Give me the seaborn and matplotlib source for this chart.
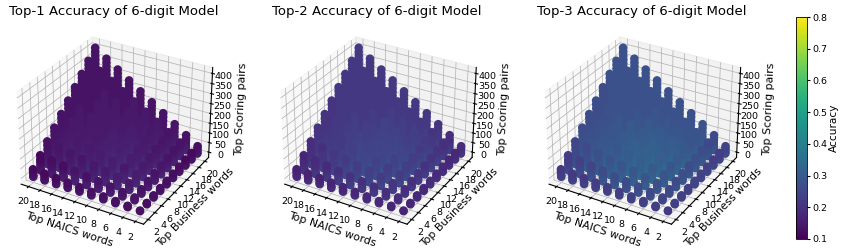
import numpy as np
import matplotlib
matplotlib.use("Agg")
import matplotlib.pyplot as plt
import seaborn as sns

naics_words = [2, 4, 6, 8, 10, 12, 14, 16, 18, 20]
business_words = [2, 4, 6, 8, 10, 12, 14, 16, 18, 20]
pair_levels = [1, 5, 10, 20, 30, 40, 50, 60, 80, 100, 120, 140, 160, 180, 200,
               220, 240, 260, 280, 300, 320, 340, 360, 380, 400]
z_ticks = [0, 50, 100, 150, 200, 250, 300, 350, 400]
cbar_ticks = [0.1, 0.2, 0.3, 0.4, 0.5, 0.6, 0.7, 0.8]

titles = ["Top-1 Accuracy of 6-digit Model",
          "Top-2 Accuracy of 6-digit Model",
          "Top-3 Accuracy of 6-digit Model"]

# accuracy at the bottom of each tower, rows = naics words, cols = business words
top1_base = [
    [.13, .13, .14, .14, .14, .14, .14, .14, .14, .15],
    [.13, .15, .15, .16, .16, .17, .17, .17, .17, .17],
    [.14, .15, .17, .18, .18, .18, .18, .18, .18, .18],
    [.14, .16, .18, .18, .19, .19, .19, .19, .19, .18],
    [.14, .16, .18, .19, .20, .20, .20, .19, .19, .18],
    [.14, .16, .18, .19, .20, .20, .19, .19, .19, .18],
    [.14, .17, .18, .19, .19, .19, .19, .19, .18, .18],
    [.14, .16, .18, .19, .19, .19, .19, .19, .18, .18],
    [.14, .16, .18, .19, .19, .19, .18, .18, .18, .18],
    [.14, .15, .17, .18, .18, .18, .18, .18, .18, .18],
]
top2_base = [
    [.17, .18, .19, .19, .20, .20, .20, .20, .20, .21],
    [.18, .20, .21, .22, .23, .23, .24, .24, .23, .23],
    [.19, .21, .23, .25, .26, .26, .26, .26, .25, .25],
    [.19, .22, .25, .26, .27, .28, .27, .27, .26, .26],
    [.19, .22, .26, .27, .28, .28, .28, .27, .26, .26],
    [.19, .23, .26, .28, .28, .28, .28, .27, .26, .26],
    [.19, .23, .26, .27, .28, .27, .27, .26, .26, .26],
    [.19, .22, .25, .26, .27, .27, .26, .26, .26, .26],
    [.19, .22, .24, .26, .26, .26, .26, .26, .26, .26],
    [.19, .21, .23, .25, .25, .25, .26, .26, .26, .26],
]
top3_base = [
    [.22, .23, .24, .24, .25, .25, .25, .25, .25, .26],
    [.23, .25, .27, .28, .29, .29, .30, .30, .29, .29],
    [.24, .27, .29, .31, .32, .33, .33, .32, .32, .32],
    [.24, .28, .31, .33, .34, .34, .34, .33, .32, .32],
    [.24, .28, .32, .34, .35, .35, .34, .33, .32, .32],
    [.24, .29, .32, .34, .35, .34, .34, .33, .32, .32],
    [.24, .29, .32, .33, .34, .34, .33, .32, .32, .32],
    [.24, .28, .31, .33, .33, .33, .32, .32, .32, .32],
    [.24, .27, .30, .32, .32, .32, .32, .32, .32, .32],
    [.24, .26, .29, .31, .31, .31, .31, .32, .32, .32],
]
panel_bases = [top1_base, top2_base, top3_base]

# how far accuracy has dropped at each pair level
pair_drop = [0, 0, .004, .01, .016, .022, .028, .032, .036, .04, .042, .044, .046,
             .046, .046, .046, .046, .046, .046, .046, .046, .046, .046, .046, .046]

panel_rects = [[0.0055, 0.0445, 0.259, 0.875],
               [0.3185, 0.0445, 0.259, 0.875],
               [0.6325, 0.0445, 0.259, 0.875]]

cmap = sns.color_palette("viridis", as_cmap=True)
norm = plt.Normalize(0.1, 0.8)

fig = plt.figure(figsize=(8.42, 2.49), dpi=100)

for rect, title, base in zip(panel_rects, titles, panel_bases):
    ax = fig.add_axes(rect, projection="3d")
    xs, ys, zs, cs = [], [], [], []
    for i, nw in enumerate(naics_words):
        for j, bw in enumerate(business_words):
            top = nw * bw
            levels = [(k, p) for k, p in enumerate(pair_levels) if p < top]
            levels.append((len(levels), top))
            for k, p in levels:
                xs.append(nw)
                ys.append(bw)
                zs.append(p)
                cs.append(base[i][j] - pair_drop[min(k, len(pair_drop) - 1)])
    ax.scatter(xs, ys, zs, c=cs, cmap=cmap, norm=norm, s=26, depthshade=False, alpha=1)
    ax.invert_xaxis()
    ax.set_xticks(naics_words)
    ax.set_yticks(business_words)
    ax.set_zticks(z_ticks)
    ax.tick_params(axis="both", labelsize=6.8, pad=-2.5, length=2)
    ax.tick_params(axis="z", pad=-3)
    ax.set_xlabel("Top NAICS words", fontsize=7.8, labelpad=-8, rotation=-20)
    ax.set_ylabel("Top Business words", fontsize=7.8, labelpad=-9, rotation=40)
    ax.set_zlabel("Top Scoring pairs", fontsize=7.8, labelpad=-7.5)
    for axis in (ax.xaxis, ax.yaxis, ax.zaxis):
        axis._axinfo["grid"]["linewidth"] = 0.5
    ax.set_title(title, fontsize=9.5, y=1.0, pad=16)

cax = fig.add_axes([796 / 842, 1 - 239 / 249, 11 / 842, 222 / 249])
sm = plt.cm.ScalarMappable(norm=norm, cmap=cmap)
cb = fig.colorbar(sm, cax=cax, ticks=cbar_ticks)
cb.ax.tick_params(labelsize=6.8, length=2, pad=2)
cb.set_label("Accuracy", fontsize=7.6, labelpad=1)
cb.outline.set_linewidth(0.6)

fig.savefig("out.png", dpi=100)
